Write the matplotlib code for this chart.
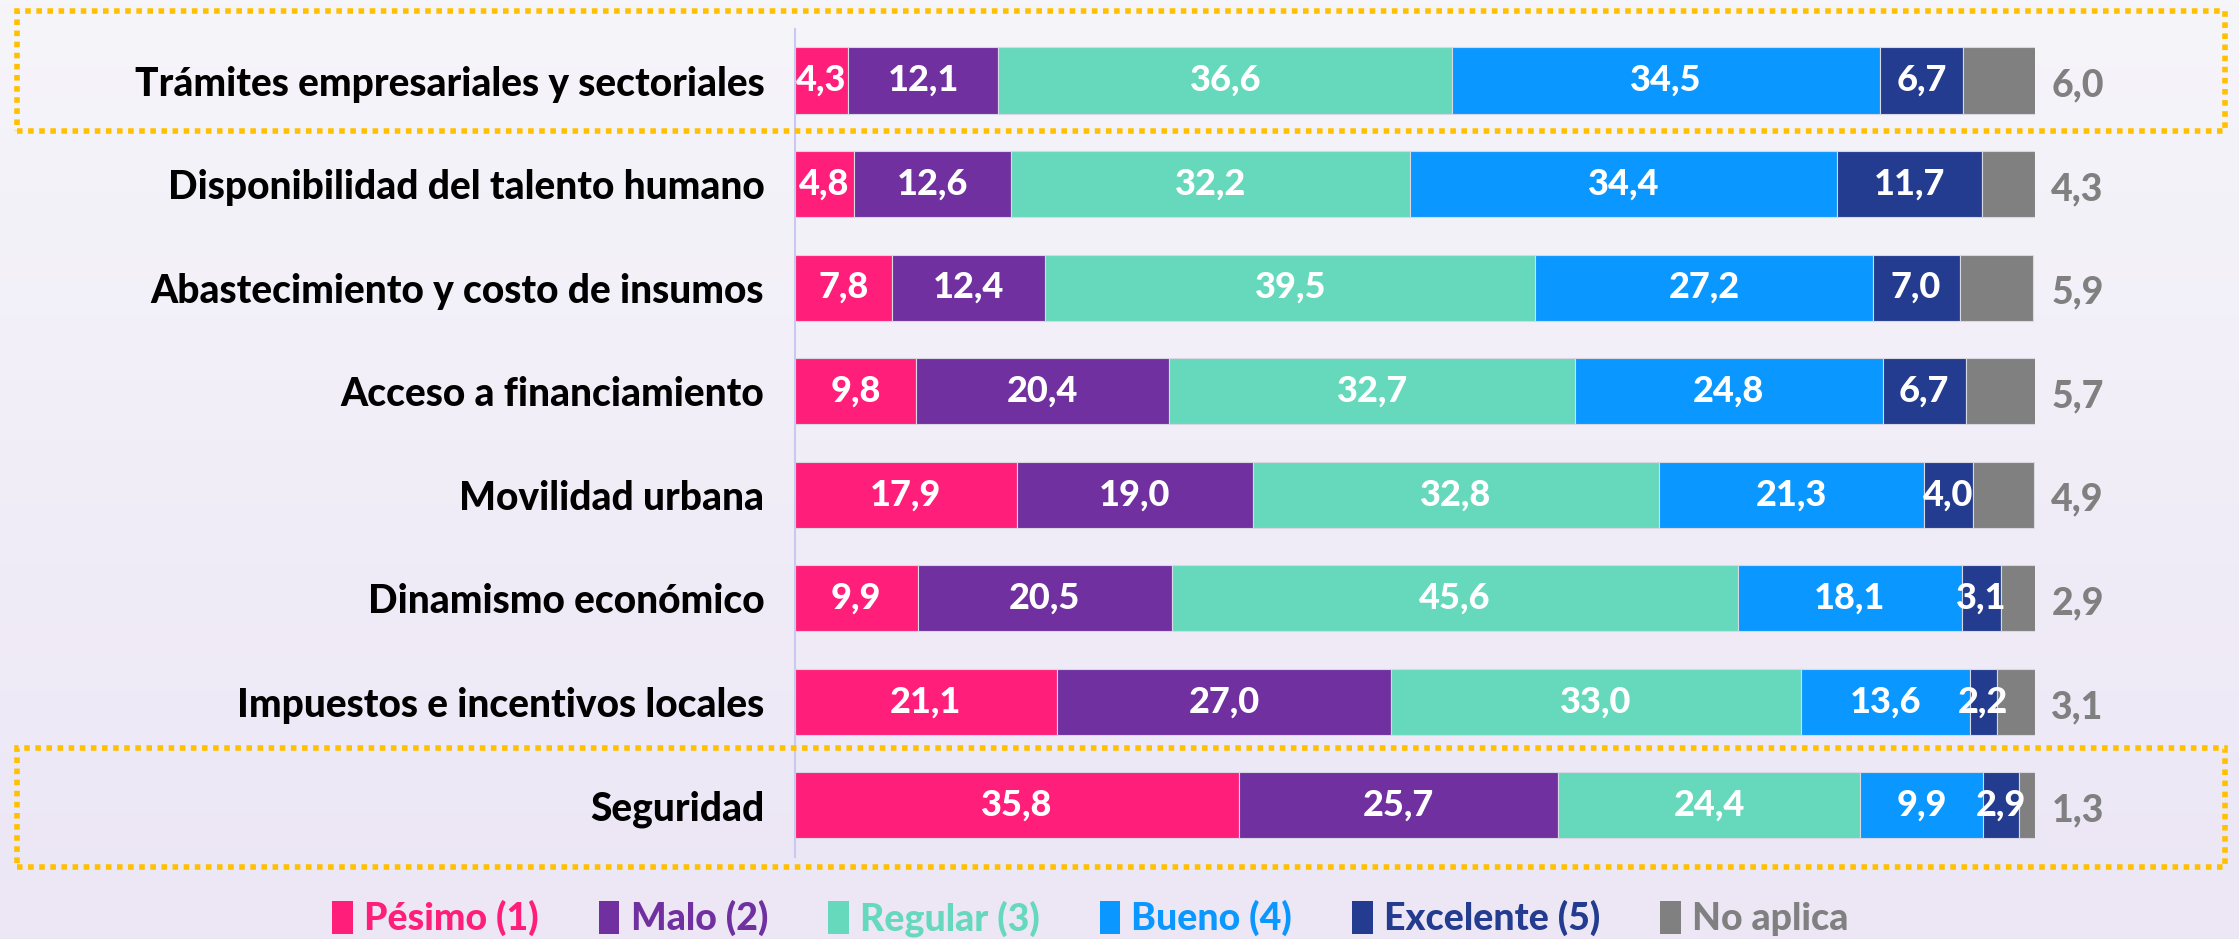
import numpy as np
import matplotlib.pyplot as plt
from matplotlib.patches import Rectangle, Patch

categories = [
    "Trámites empresariales y sectoriales",
    "Disponibilidad del talento humano",
    "Abastecimiento y costo de insumos",
    "Acceso a financiamiento",
    "Movilidad urbana",
    "Dinamismo económico",
    "Impuestos e incentivos locales",
    "Seguridad",
]
series_names = ["Pésimo (1)", "Malo (2)", "Regular (3)", "Bueno (4)", "Excelente (5)", "No aplica"]
pesimo = [4.3, 4.8, 7.8, 9.8, 17.9, 9.9, 21.1, 35.8]
malo = [12.1, 12.6, 12.4, 20.4, 19.0, 20.5, 27.0, 25.7]
regular = [36.6, 32.2, 39.5, 32.7, 32.8, 45.6, 33.0, 24.4]
bueno = [34.5, 34.4, 27.2, 24.8, 21.3, 18.1, 13.6, 9.9]
excelente = [6.7, 11.7, 7.0, 6.7, 4.0, 3.1, 2.2, 2.9]
no_aplica = [6.0, 4.3, 5.9, 5.7, 4.9, 2.9, 3.1, 1.3]
colors = ["#FF1F7A", "#7030A0", "#66D9BC", "#0A97FF", "#233C8F", "#808080"]

FONT = "Lato"


def fmt(v):
    return f"{v:.1f}".replace(".", ",")


fig = plt.figure(figsize=(22.39, 9.39), dpi=100)

# background gradient
bg = fig.add_axes([0, 0, 1, 1], zorder=-10)
grad = np.linspace(0, 1, 256).reshape(-1, 1)
top = np.array([0xF6, 0xF5, 0xFA]) / 255
bot = np.array([0xEC, 0xE6, 0xF5]) / 255
img = top + (bot - top) * grad[:, :, None]
bg.imshow(img, aspect="auto", extent=[0, 1, 0, 1])
bg.axis("off")

ax = fig.add_axes([0.355, 0.0873, 0.554, 0.882])
ax.set_facecolor("none")

data = [pesimo, malo, regular, bueno, excelente, no_aplica]
y = np.arange(len(categories))
left = np.zeros(len(categories))
for i, (vals, col) in enumerate(zip(data, colors)):
    vals = np.array(vals)
    ax.barh(y, vals, left=left, height=0.64, color=col, edgecolor="#D8D8E4", linewidth=0.8)
    for yi, (l, v) in enumerate(zip(left, vals)):
        if i < 5:
            ax.text(l + v / 2, yi, fmt(v), ha="center", va="center", color="white",
                    fontsize=26, fontweight="black", family=FONT)
    left = left + vals

# no aplica values to the right of the bars
for yi, v in enumerate(no_aplica):
    ax.text(101.3, yi + 0.05, fmt(v), ha="left", va="center", color="#808080",
            fontsize=27, fontweight="black", family=FONT, clip_on=False)

ax.set_xlim(0, 100)
ax.set_ylim(len(categories) - 0.5, -0.5)
ax.set_xticks([])
ax.set_yticks(y)
ax.set_yticklabels(categories, fontsize=28, fontweight="black", family=FONT, color="black")
ax.tick_params(axis="y", length=0, pad=22)
for s in ["top", "right", "bottom"]:
    ax.spines[s].set_visible(False)
ax.spines["left"].set_color("#C8C8F0")
ax.spines["left"].set_linewidth(1.5)

# dotted highlight boxes
for (x0, y0, w, h) in [(0.0076, 0.8605, 0.9862, 0.128), (0.0076, 0.0767, 0.9862, 0.1267)]:
    fig.add_artist(Rectangle((x0, y0), w, h, transform=fig.transFigure, fill=False,
                             edgecolor="#FFC000", linestyle=(0, (1, 1.0)), linewidth=4))

handles = [Patch(facecolor=c, edgecolor="none") for c in colors]
leg = fig.legend(handles, series_names, loc="center", bbox_to_anchor=(0.487, 0.022), ncol=6,
                 frameon=False, prop={"family": FONT, "weight": "black", "size": 27},
                 handlelength=0.55, handleheight=1.0, handletextpad=0.3, columnspacing=1.6)
for txt, c in zip(leg.get_texts(), colors):
    txt.set_color(c)

fig.savefig("out.png", dpi=100)
